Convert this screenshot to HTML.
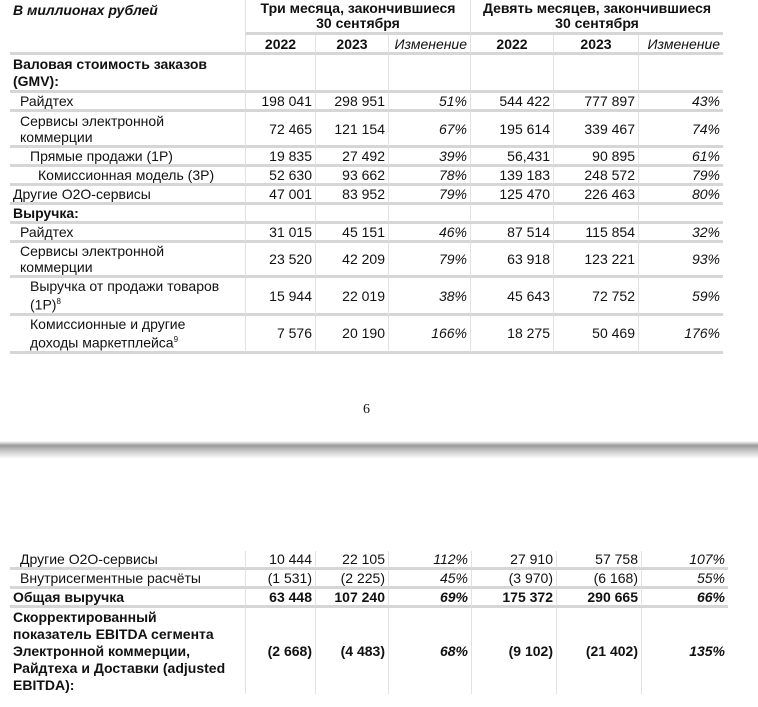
<!DOCTYPE html>
<html><head><meta charset="utf-8"><style>
body{margin:0;width:758px;height:707px;background:#fff;position:relative;overflow:hidden;font-family:"Liberation Sans",Arial,sans-serif;font-size:14px;color:#111}
table{position:absolute;left:10px;border-collapse:separate;border-spacing:0;table-layout:fixed}
td{padding:0 3px;vertical-align:middle;line-height:16px;border-bottom:3px solid #d6d6d6;border-left:1px solid #e2e2e2;text-align:right;white-space:nowrap;overflow:visible}
td:first-child{border-left:none;text-align:left}
td.p{font-style:italic}
.b td{font-weight:bold}
.hd td{border-bottom:none}
.i1{padding-left:10px}.i2{padding-left:20px}.i3{padding-left:28px}
.nb td{border-bottom:none}
</style></head><body>
<table style="top:0;width:713px">
<colgroup><col style="width:235px"><col style="width:70px"><col style="width:73px"><col style="width:82px"><col style="width:83px"><col style="width:85px"><col style="width:85px"></colgroup>
<tr class="hd"><td style="height:30px;font-weight:bold;font-style:italic;vertical-align:top;padding-top:2px;border-bottom:3px solid #fff">В миллионах рублей</td><td colspan="3" style="height:30px;text-align:center;font-weight:bold;border-bottom:3px solid #d6d6d6;line-height:15px">Три месяца, закончившиеся<br>30 сентября</td><td colspan="3" style="text-align:center;font-weight:bold;border-bottom:3px solid #d6d6d6;line-height:15px">Девять месяцев, закончившиеся<br>30 сентября</td></tr>
<tr><td style="height:17px"></td><td style="text-align:center;font-weight:bold">2022</td><td style="text-align:center;font-weight:bold">2023</td><td class="p">Изменение</td><td style="text-align:center;font-weight:bold">2022</td><td style="text-align:center;font-weight:bold">2023</td><td class="p">Изменение</td></tr>
<tr><td style="height:35px;font-weight:bold;line-height:17px">Валовая стоимость заказов<br>(GMV):</td><td></td><td></td><td></td><td></td><td></td><td></td></tr>
<tr><td class="i1" style="height:16px">Райдтех</td><td>198 041</td><td>298 951</td><td class="p">51%</td><td>544 422</td><td>777 897</td><td class="p">43%</td></tr>
<tr><td class="i1" style="height:33px">Сервисы электронной<br>коммерции</td><td>72 465</td><td>121 154</td><td class="p">67%</td><td>195 614</td><td>339 467</td><td class="p">74%</td></tr>
<tr><td class="i2" style="height:16px">Прямые продажи (1P)</td><td>19 835</td><td>27 492</td><td class="p">39%</td><td>56,431</td><td>90 895</td><td class="p">61%</td></tr>
<tr><td class="i3" style="height:15px">Комиссионная модель (3P)</td><td>52 630</td><td>93 662</td><td class="p">78%</td><td>139 183</td><td>248 572</td><td class="p">79%</td></tr>
<tr><td style="height:16px">Другие O2O-сервисы</td><td>47 001</td><td>83 952</td><td class="p">79%</td><td>125 470</td><td>226 463</td><td class="p">80%</td></tr>
<tr><td style="height:16px;font-weight:bold">Выручка:</td><td></td><td></td><td></td><td></td><td></td><td></td></tr>
<tr><td class="i1" style="height:16px">Райдтех</td><td>31 015</td><td>45 151</td><td class="p">46%</td><td>87 514</td><td>115 854</td><td class="p">32%</td></tr>
<tr><td class="i1" style="height:32px">Сервисы электронной<br>коммерции</td><td>23 520</td><td>42 209</td><td class="p">79%</td><td>63 918</td><td>123 221</td><td class="p">93%</td></tr>
<tr><td class="i2" style="height:35px">Выручка от продажи товаров<br>(1P)<sup style="font-size:8px">8</sup></td><td>15 944</td><td>22 019</td><td class="p">38%</td><td>45 643</td><td>72 752</td><td class="p">59%</td></tr>
<tr><td class="i2" style="height:34px">Комиссионные и другие<br>доходы маркетплейса<sup style="font-size:8px">9</sup></td><td>7 576</td><td>20 190</td><td class="p">166%</td><td>18 275</td><td>50 469</td><td class="p">176%</td></tr>
</table>
<div style="position:absolute;left:363px;top:402px;font-family:'Liberation Serif',serif;font-size:14px">6</div>
<div style="position:absolute;left:0;top:441px;width:758px;height:18px;background:linear-gradient(#fff,#9a9a9a 25%,#c8c8c8 55%,#eee 85%,#fff)"></div>
<table style="top:551px;width:718px">
<colgroup><col style="width:235px"><col style="width:70px"><col style="width:73px"><col style="width:83px"><col style="width:85px"><col style="width:85px"><col style="width:87px"></colgroup>
<tr><td class="i1" style="height:16px">Другие O2O-сервисы</td><td>10 444</td><td>22 105</td><td class="p">112%</td><td>27 910</td><td>57 758</td><td class="p">107%</td></tr>
<tr><td class="i1" style="height:16px">Внутрисегментные расчёты</td><td>(1 531)</td><td>(2 225)</td><td class="p">45%</td><td>(3 970)</td><td>(6 168)</td><td class="p">55%</td></tr>
<tr class="b"><td style="height:16px">Общая выручка</td><td>63 448</td><td>107 240</td><td class="p">69%</td><td>175 372</td><td>290 665</td><td class="p">66%</td></tr>
<tr class="b nb"><td style="height:86px;line-height:17px">Скорректированный<br>показатель EBITDA сегмента<br>Электронной коммерции,<br>Райдтеха и Доставки (adjusted<br>EBITDA):</td><td>(2 668)</td><td>(4 483)</td><td class="p">68%</td><td>(9 102)</td><td>(21 402)</td><td class="p">135%</td></tr>
</table>
</body></html>
